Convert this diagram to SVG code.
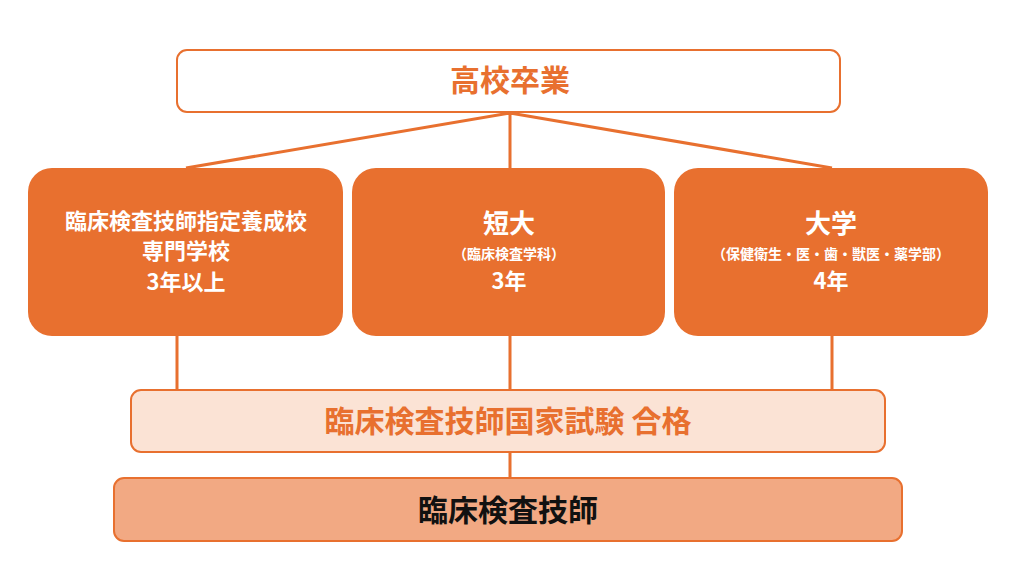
<svg xmlns="http://www.w3.org/2000/svg" width="1024" height="576" viewBox="0 0 1024 576">
<style>
text{font-family:"Noto Sans CJK JP","Noto Sans",sans-serif;font-weight:bold;text-anchor:middle}
.w{fill:#fff}
.o{fill:#E8702F}
.box{fill:#E8702F}
.ln{stroke:#E8702F;stroke-width:3;fill:none}
</style>
<rect width="1024" height="576" fill="#fff"/>
<g id="connectors" class="ln">
<path d="M510 112V168M510 113L186 168M510 113L832 168"/>
<path d="M177 336V390M510 336V390M832 336V390M510 452V478"/>
</g>
<g id="top"><rect x="177" y="50" width="663" height="62" rx="10" fill="#fff" stroke="#E8702F" stroke-width="2"/>
<text x="510" y="91" font-size="30" class="o">高校卒業</text></g>
<g id="school"><rect class="box" x="28" y="168" width="315" height="168" rx="24"/>
<text class="w" x="186" y="229" font-size="22">臨床検査技師指定養成校</text>
<text class="w" x="186" y="259" font-size="22">専門学校</text>
<text class="w" x="186" y="290" font-size="22">3年以上</text></g>
<g id="junior"><rect class="box" x="352" y="168" width="313" height="168" rx="24"/>
<text class="w" x="509" y="233" font-size="26">短大</text>
<text class="w" x="509" y="259" font-size="14" font-weight="normal">（臨床検査学科）</text>
<text class="w" x="509" y="289" font-size="22">3年</text></g>
<g id="univ"><rect class="box" x="674" y="168" width="314" height="168" rx="24"/>
<text class="w" x="831" y="233" font-size="26">大学</text>
<text class="w" x="831" y="259" font-size="14" font-weight="normal">（保健衛生・医・歯・獣医・薬学部）</text>
<text class="w" x="831" y="289" font-size="22">4年</text></g>
<g id="exam"><rect x="131" y="390" width="754" height="62" rx="10" fill="#FBE3D5" stroke="#E8702F" stroke-width="2"/>
<text x="508" y="432" font-size="30" class="o">臨床検査技師国家試験 合格</text></g>
<g id="result"><rect x="114" y="478" width="788" height="63" rx="10" fill="#F2A983" stroke="#E8702F" stroke-width="2"/>
<text x="508" y="521" font-size="30" fill="#111">臨床検査技師</text></g>
</svg>
